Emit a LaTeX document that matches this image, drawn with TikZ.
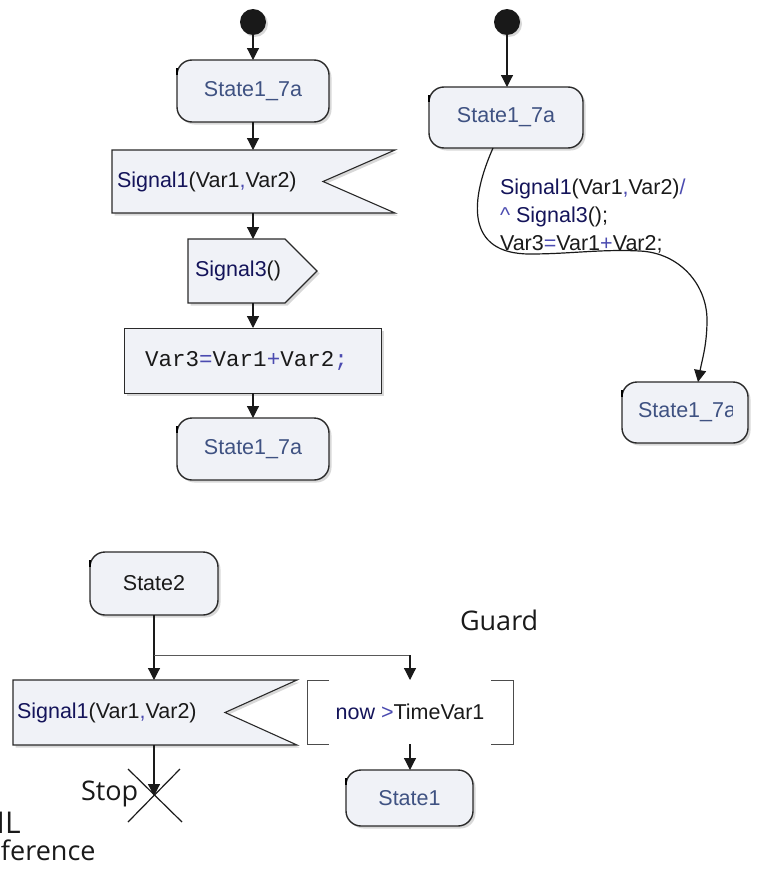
\documentclass[tikz,border=0pt]{standalone}
\usepackage{fontspec}
\setmainfont{Liberation Sans}
\setmonofont{Liberation Mono}
\newfontfamily\labfont{Open Sans}
\usetikzlibrary{arrows.meta,shadows,calc}
\definecolor{boxfill}{HTML}{F0F2F7}
\definecolor{boxline}{HTML}{2A2A2A}
\definecolor{stxt}{HTML}{3F5282}
\definecolor{navy}{HTML}{14145A}
\definecolor{pblue}{HTML}{4B4BB0}
\definecolor{blk}{HTML}{1A1A1A}
\newcommand\dfont{\fontsize{21.5}{25}\selectfont}
\newcommand\mfont{\fontsize{22.5}{26}\selectfont\ttfamily}
\newcommand\lfont{\fontsize{27}{32}\selectfont\labfont}
\begin{document}
\begin{tikzpicture}[x=1pt,y=-1pt,
  shad/.style={drop shadow={shadow xshift=2.5pt,shadow yshift=-2.5pt,fill=black!30,opacity=.5}},
  statebox/.style={draw=boxline,line width=1.4pt,fill=boxfill,rounded corners=15pt,
     inner sep=0pt,outer sep=0pt,shad,font=\dfont,text=stxt},
  hold/.style={inner sep=0pt,outer sep=0pt,draw=none},
  sigshape/.style={draw=boxline,line width=1.1pt,fill=boxfill,shad},
  actbox/.style={draw=boxline,line width=1pt,fill=boxfill,inner sep=0pt,outer sep=0pt,shad},
  initdot/.style={circle,fill=black!90,minimum size=26pt,inner sep=0pt,outer sep=0pt,
     drop shadow={shadow xshift=2pt,shadow yshift=-2pt,fill=black!30,opacity=.5}},
  conn/.style={draw=blk,line width=1.2pt,-{Triangle[length=12pt,width=12pt]}},
  plain/.style={draw=blk,line width=1.2pt},
  greyline/.style={draw=black!65,line width=1pt},
  bracket/.style={draw=black!70,line width=1pt},
  dtext/.style={font=\dfont,inner sep=0pt,outer sep=0pt},
  labtext/.style={font=\lfont,text=blk,inner sep=0pt,outer sep=0pt},
  tick/.style={draw=black,line width=1.5pt}]
\useasboundingbox (0,0) rectangle (757,870);

% ---------------- left column ----------------
\node[initdot] (i1) at (253,22) {};
\node[statebox,minimum width=152pt,minimum height=62pt] (s1a) at (253,91) {State1\_7a};
\node[hold,minimum width=283pt,minimum height=63pt] (sig1) at (253.5,181.5) {};
\path[sigshape] (sig1.north west) -- (sig1.north east) -- ($(sig1.east)+(-72,0)$)
   -- (sig1.south east) -- (sig1.south west) -- cycle;
\node[dtext,anchor=west] (sig1t) at ([xshift=5pt]sig1.west)
   {\textcolor{navy}{Signal1}\textcolor{blk}{(Var1}\textcolor{pblue}{,}\textcolor{blk}{Var2)}};
\node[hold,minimum width=129pt,minimum height=64pt] (sig3) at (252.5,271) {};
\path[sigshape] (sig3.north west) -- ($(sig3.north east)+(-32,0)$) -- (sig3.east)
   -- ($(sig3.south east)+(-32,0)$) -- (sig3.south west) -- cycle;
\node[dtext,anchor=west] (sig3t) at ([xshift=7pt]sig3.west)
   {\textcolor{navy}{Signal3}\textcolor{blk}{()}};
\node[actbox,minimum width=257pt,minimum height=65pt] (act) at (252.5,360.5) {};
\node[font=\mfont,inner sep=0pt] (actt) at ([xshift=-6pt]act.center)
   {\textcolor{blk}{Var3}\textcolor{pblue}{=}\textcolor{blk}{Var1}\textcolor{pblue}{+}\textcolor{blk}{Var2}\textcolor{pblue}{;}};
\node[statebox,minimum width=152pt,minimum height=62pt] (s1b) at (253,449) {State1\_7a};

\draw[conn] (i1.south) -- (i1.south |- s1a.north);
\draw[conn] (s1a.south) -- (s1a.south |- sig1.north);
\draw[conn] (s1a.south |- sig1.south) -- (s1a.south |- sig3.north);
\draw[conn] (s1a.south |- sig3.south) -- (s1a.south |- act.north);
\draw[conn] (s1a.south |- act.south) -- (s1b.north);

% ---------------- right column ----------------
\node[initdot] (i2) at (507,22) {};
\node[statebox,minimum width=154pt,minimum height=61pt] (s1r) at (506,117.5) {State1\_7a};
\node[statebox,minimum width=126pt,minimum height=61pt] (s1r2) at (685,412.5) {};
\begin{scope}
  \clip (630,385) rectangle (732,440);
  \node[dtext,text=stxt,anchor=west] (s1r2t) at (638,412.5) {State1\_7a};
\end{scope}
\draw[conn] (i2.south) -- (i2.south |- s1r.north);
\draw[conn] ([xshift=-13pt]s1r.south) .. controls (470,200) and (465,254) .. (530,254)
   .. controls (570,254) and (600,249) .. (640,251)
   .. controls (680,253) and (707,285) .. (707,320)
   .. controls (707,345) and (702,360) .. ([xshift=13pt]s1r2.north);
\node[dtext,anchor=base west] (l1) at (500,194)
   {\textcolor{navy}{Signal1}\textcolor{blk}{(Var1}\textcolor{pblue}{,}\textcolor{blk}{Var2)}\textcolor{pblue}{/}};
\node[dtext,anchor=base west] (l2) at (500,222)
   {\textcolor{pblue}{\^{}} \textcolor{navy}{Signal3}\textcolor{blk}{();}};
\node[dtext,anchor=base west] (l3) at (500,250)
   {\textcolor{blk}{Var3}\textcolor{pblue}{=}\textcolor{blk}{Var1}\textcolor{pblue}{+}\textcolor{blk}{Var2;}};

% ---------------- bottom ----------------
\node[statebox,text=blk,minimum width=128pt,minimum height=63pt] (st2) at (154,583.5) {State2};
\node[hold,minimum width=284pt,minimum height=65pt] (sigb) at (155,712.5) {};
\path[sigshape] (sigb.north west) -- (sigb.north east) -- ($(sigb.east)+(-72,0)$)
   -- (sigb.south east) -- (sigb.south west) -- cycle;
\node[dtext,anchor=west] (sigbt) at ([xshift=4pt]sigb.west)
   {\textcolor{navy}{Signal1}\textcolor{blk}{(Var1}\textcolor{pblue}{,}\textcolor{blk}{Var2)}};
\node[hold,dtext,minimum width=206pt,minimum height=64pt] (gd) at (410,712)
   {\textcolor{navy}{now} \textcolor{pblue}{>}\textcolor{blk}{TimeVar1}};
\draw[bracket] ([xshift=22pt]gd.north west) -- (gd.north west) -- (gd.south west) -- ([xshift=22pt]gd.south west);
\draw[bracket] ([xshift=-22pt]gd.north east) -- (gd.north east) -- (gd.south east) -- ([xshift=-22pt]gd.south east);
\node[statebox,minimum width=127pt,minimum height=56pt] (s1) at (409.5,798) {State1};

\coordinate (br) at (154,655);
\coordinate (stopc) at (154,796);
\draw[conn] (st2.south) -- (st2.south |- sigb.north);
\draw[greyline] (br) -- (br -| gd.north);
\draw[conn] (br -| gd.north) -- (gd.north);
\draw[conn] (gd.south) -- (gd.south |- s1.north);
\draw[conn] (stopc |- sigb.south) -- (stopc);
\draw[plain] ($(stopc)+(-26,-27)$) -- ($(stopc)+(28,26)$);
\draw[plain] ($(stopc)+(26,-27)$) -- ($(stopc)+(-26,26)$);

\foreach \n in {s1a,s1b,s1r,s1r2,st2,s1}
  \draw[tick] ([yshift=-8pt]\n.north west) -- ([yshift=-15pt]\n.north west);

\node[labtext,anchor=base west] (stop) at (81,800) {Stop};
\node[labtext,anchor=base west] (guard) at (460,630) {Guard};
\node[labtext,font=\fontsize{30}{34}\selectfont\labfont,anchor=base west] (ml) at (-22,833) {ML};
\node[labtext,anchor=base west] (ref) at (1,860) {ference};
\end{tikzpicture}
\end{document}
